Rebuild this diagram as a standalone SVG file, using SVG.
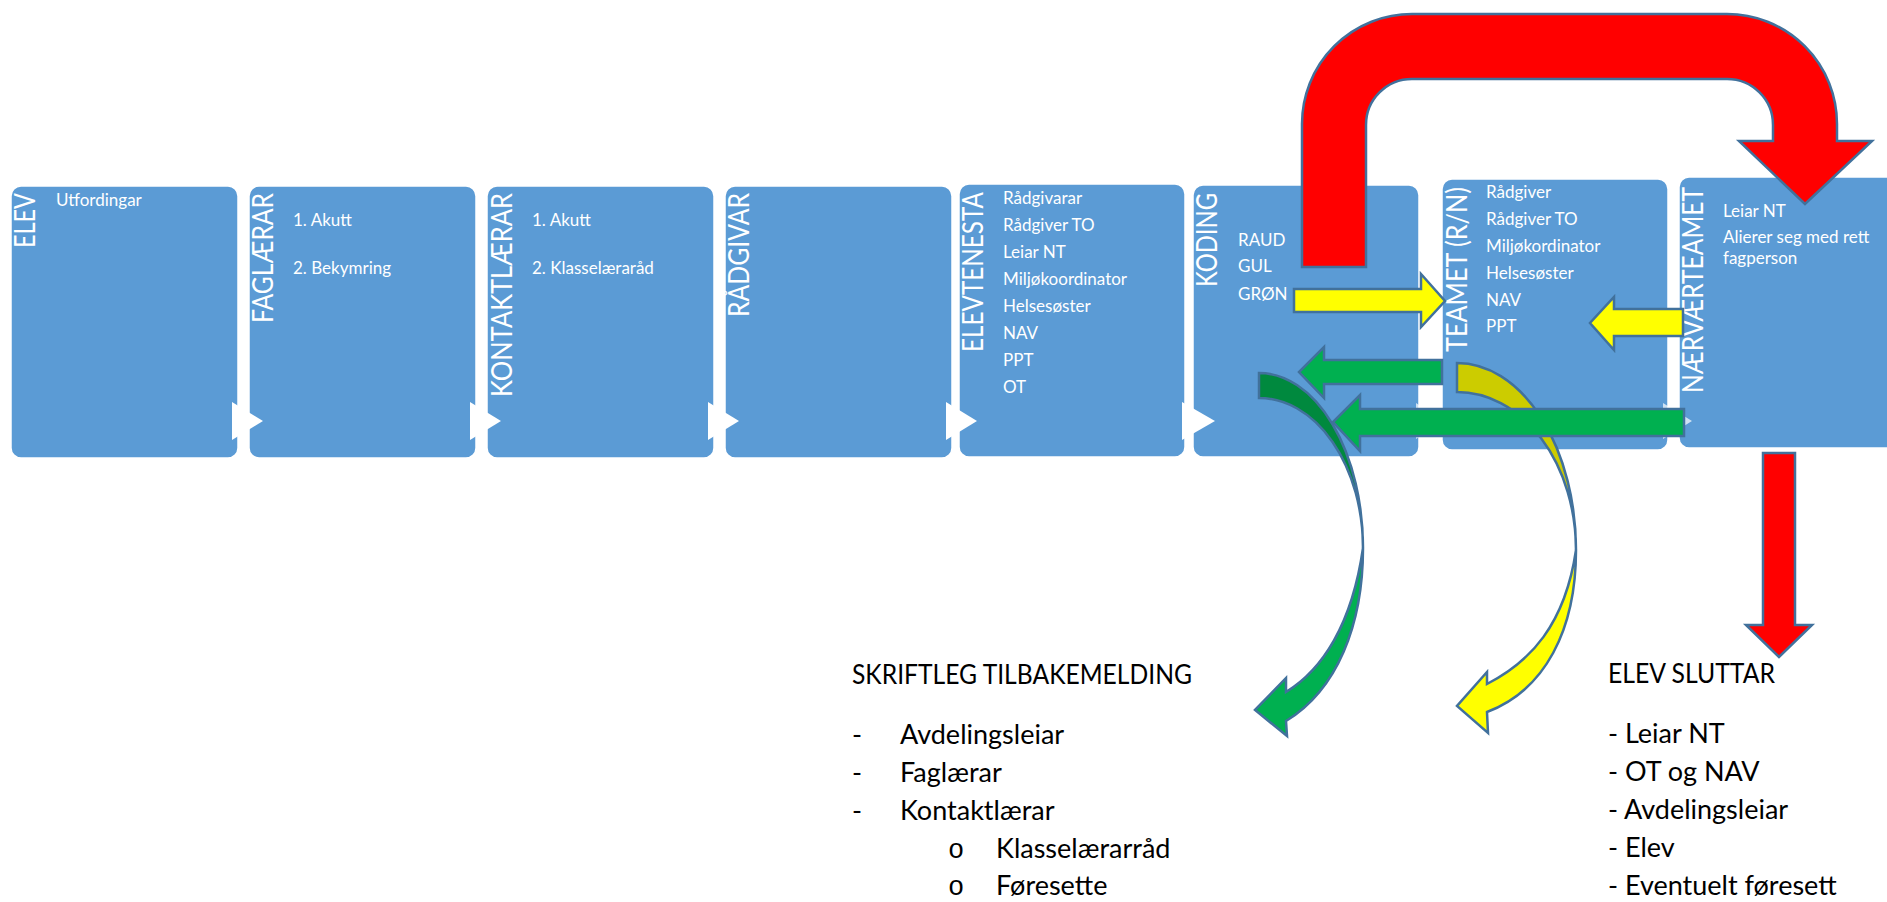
<svg xmlns="http://www.w3.org/2000/svg" width="1887" height="902" viewBox="0 0 1887 902">
<style>
.box{fill:#5B9BD5;stroke:#fff;stroke-width:1.5}
.tt{font-family:Lato,'Liberation Sans',sans-serif;font-size:28px;fill:#fff;text-anchor:end}
.bt{font-family:Lato,'Liberation Sans',sans-serif;font-size:17px;fill:#fff}
.lt{font-family:Lato,'Liberation Sans',sans-serif;font-size:27px;fill:#000}
.bul{font-family:'Liberation Mono',monospace;font-size:27px;fill:#000}
.chev{fill:#fff}
.arr{stroke:#41719C;stroke-width:2.5;stroke-linejoin:miter}
.red{fill:#FF0000}.yel{fill:#FFFF00}.olv{fill:#CCCC00}.grn{fill:#00B050}.dgr{fill:#00893E}
</style>
<rect width="1887" height="902" fill="#fff"/>
<g id="boxes">
<g id="n-elev"><rect class="box" x="11" y="186" width="227" height="272" rx="10"/>
<text class="tt" transform="translate(35,193) rotate(-90)" textLength="55" lengthAdjust="spacingAndGlyphs">ELEV</text>
<text class="bt" x="56" y="206">Utfordingar</text></g>
<g id="n-faglarar"><rect class="box" x="249" y="186" width="227" height="272" rx="10"/>
<text class="tt" transform="translate(273,193) rotate(-90)" textLength="130" lengthAdjust="spacingAndGlyphs">FAGLÆRAR</text>
<text class="bt" x="293" y="226">1. Akutt</text>
<text class="bt" x="293" y="274">2. Bekymring</text></g>
<g id="n-kontakt"><rect class="box" x="487" y="186" width="227" height="272" rx="10"/>
<text class="tt" transform="translate(512,193) rotate(-90)" textLength="204" lengthAdjust="spacingAndGlyphs">KONTAKTLÆRAR</text>
<text class="bt" x="532" y="226">1. Akutt</text>
<text class="bt" x="532" y="274">2. Klasselæraråd</text></g>
<g id="n-radgivar"><rect class="box" x="725" y="186" width="227" height="272" rx="10"/>
<text class="tt" transform="translate(749,193) rotate(-90)" textLength="124" lengthAdjust="spacingAndGlyphs">RÅDGIVAR</text></g>
<g id="n-elevtenesta"><rect class="box" x="959" y="184" width="226" height="273" rx="10"/>
<text class="tt" transform="translate(983,192) rotate(-90)" textLength="160" lengthAdjust="spacingAndGlyphs">ELEVTENESTA</text>
<text class="bt" x="1003" y="204">Rådgivarar</text>
<text class="bt" x="1003" y="231">Rådgiver TO</text>
<text class="bt" x="1003" y="258">Leiar NT</text>
<text class="bt" x="1003" y="285">Miljøkoordinator</text>
<text class="bt" x="1003" y="312">Helsesøster</text>
<text class="bt" x="1003" y="339">NAV</text>
<text class="bt" x="1003" y="366">PPT</text>
<text class="bt" x="1003" y="393">OT</text></g>
<g id="n-koding"><rect class="box" x="1193" y="185" width="226" height="272" rx="10"/>
<text class="tt" transform="translate(1217,193) rotate(-90)" textLength="94" lengthAdjust="spacingAndGlyphs">KODING</text>
<text class="bt" x="1238" y="246">RAUD</text>
<text class="bt" x="1238" y="272">GUL</text>
<text class="bt" x="1238" y="300">GRØN</text></g>
<g id="n-teamet"><rect class="box" x="1442" y="179" width="226" height="271" rx="10"/>
<text class="tt" transform="translate(1467,187) rotate(-90)" textLength="165" lengthAdjust="spacingAndGlyphs">TEAMET (R/N)</text>
<text class="bt" x="1486" y="198">Rådgiver</text>
<text class="bt" x="1486" y="225">Rådgiver TO</text>
<text class="bt" x="1486" y="252">Miljøkordinator</text>
<text class="bt" x="1486" y="279">Helsesøster</text>
<text class="bt" x="1486" y="306">NAV</text>
<text class="bt" x="1486" y="332">PPT</text></g>
<g id="n-narvar"><rect class="box" x="1679" y="177" width="240" height="271" rx="10"/>
<text class="tt" transform="translate(1703,187) rotate(-90)" textLength="206" lengthAdjust="spacingAndGlyphs">NÆRVÆRTEAMET</text>
<text class="bt" x="1723" y="217">Leiar NT</text>
<text class="bt" x="1723" y="243">Alierer seg med rett</text>
<text class="bt" x="1723" y="264">fagperson</text></g>
</g>
<g id="chevrons">
<polygon class="chev" points="232,402 263,421 232,440"/>
<polygon class="chev" points="470,402 501,421 470,440"/>
<polygon class="chev" points="708,402 739,421 708,440"/>
<polygon class="chev" points="946,402 977,421 946,440"/>
<polygon class="chev" points="1182,402 1215,421 1182,440"/>
<polygon class="chev" points="1416,403 1443,421 1416,439" opacity="0.7"/>
<polygon class="chev" points="1663,403 1692,421 1663,439" opacity="0.7"/>
</g>
<g id="connectors">
<path class="arr red" d="M1302 267 L1302 124 A110 110 0 0 1 1412 14 L1727 14 A110 110 0 0 1 1837 124 L1837 141 L1872 141 L1805 204 L1739 141 L1773 141 L1773 125 A46 46 0 0 0 1727 79 L1412 79 A46 46 0 0 0 1366 125 L1366 267 Z"/>
<path class="arr olv" d="M1457 363 A119 187 0 0 1 1576 550 A119 158 0 0 0 1457 392 Z"/>
<path class="arr yel" d="M1576 550 C1576 630 1545 690 1487 712 L1488 733 L1457 706 L1487 672 L1487 684 C1530 662 1565 625 1576 550 Z"/>
<path class="arr dgr" d="M1259 373 A104 175 0 0 1 1363 548 A104 150 0 0 0 1259 398 Z"/>
<path class="arr grn" d="M1363 548 C1363 625 1337 690 1286 721 L1287 736 L1255 710 L1286 678 L1286 692 C1322 670 1352 625 1363 548 Z"/>
<path class="arr yel" d="M1294 289 L1421 289 L1421 274 L1445 301 L1421 327 L1421 312 L1294 312 Z"/>
<path class="arr yel" d="M1683 309 L1614 309 L1614 297 L1590 323 L1614 350 L1614 336 L1683 336 Z"/>
<path class="arr grn" d="M1442 360 L1324 360 L1324 347 L1299 372 L1324 398 L1324 384 L1442 384 Z"/>
<path class="arr grn" d="M1684 409 L1360 409 L1360 395 L1333 422 L1360 451 L1360 436 L1684 436 Z"/>
<path class="arr red" d="M1763 453 L1795 453 L1795 625 L1812 625 L1779 657 L1746 625 L1763 625 Z"/>
</g>
<g id="feedback-list">
<text class="lt" x="852" y="684" textLength="340" lengthAdjust="spacingAndGlyphs">SKRIFTLEG TILBAKEMELDING</text>
<text class="lt" x="852" y="744">-</text><text class="lt" x="900" y="744">Avdelingsleiar</text>
<text class="lt" x="852" y="782">-</text><text class="lt" x="900" y="782">Faglærar</text>
<text class="lt" x="852" y="820">-</text><text class="lt" x="900" y="820">Kontaktlærar</text>
<text class="bul" x="948" y="858">o</text><text class="lt" x="996" y="858">Klasselærarråd</text>
<text class="bul" x="948" y="895">o</text><text class="lt" x="996" y="895">Føresette</text>
</g>
<g id="exit-list">
<text class="lt" x="1608" y="683" textLength="167" lengthAdjust="spacingAndGlyphs">ELEV SLUTTAR</text>
<text class="lt" x="1608" y="743">- Leiar NT</text>
<text class="lt" x="1608" y="781">- OT og NAV</text>
<text class="lt" x="1608" y="819">- Avdelingsleiar</text>
<text class="lt" x="1608" y="857">- Elev</text>
<text class="lt" x="1608" y="895">- Eventuelt føresett</text>
</g>
</svg>
